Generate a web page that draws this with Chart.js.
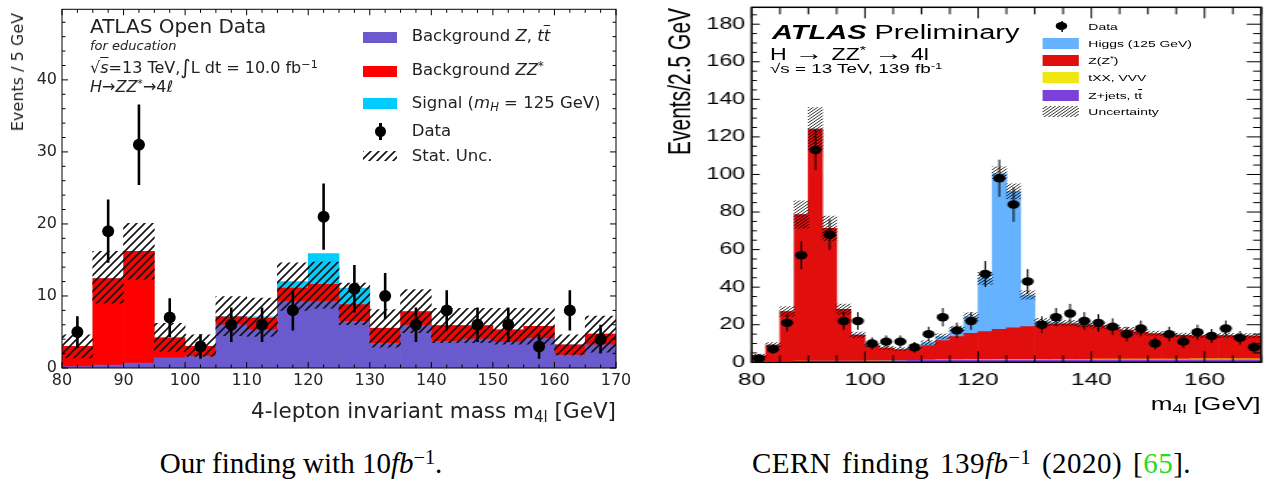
<!DOCTYPE html>
<html><head><meta charset="utf-8">
<script src="https://cdn.jsdelivr.net/npm/chart.js@4.4.1/dist/chart.umd.min.js"></script>
<style>
html,body{margin:0;padding:0;background:#fff;width:1273px;height:483px;overflow:hidden;}
.abs{position:absolute;white-space:nowrap;line-height:1;}
#left{position:absolute;left:0;top:0;width:640px;height:430px;font-family:'DejaVu Sans';color:#222;}
#right{position:absolute;left:660px;top:0;width:423px;height:430px;transform:scaleX(1.4492);transform-origin:0 0;font-family:'Liberation Sans';color:#000;}
.sup{position:relative;top:-0.45em;font-size:0.7em;line-height:0;}
.sub{position:relative;top:0.25em;font-size:0.7em;line-height:0;}
.cap{position:absolute;top:449px;font-family:'Liberation Serif';font-size:29px;line-height:28px;white-space:nowrap;color:#000;transform:translateX(-50%);}
.vert{writing-mode:vertical-rl;transform:rotate(180deg);}
.ov{text-decoration:overline;}
.arr{font-size:1.25em;line-height:0;position:relative;top:0.02em;}
</style></head><body>
<div id="left">
  <canvas id="c1" width="640" height="430" style="position:absolute;left:0;top:0;width:640px;height:430px"></canvas>
  <div class="abs vert" style="left:10px;top:13px;font-size:16px;">Events / 5 GeV</div>
  <div class="abs" style="left:90px;top:16.4px;font-size:20px;">ATLAS Open Data</div>
  <div class="abs" style="left:90px;top:39px;font-size:13px;font-style:italic;">for education</div>
  <div class="abs" style="left:90px;top:59.8px;font-size:16px;">√<span class="ov"><i>s</i></span>=13 TeV,<span style="font-size:1.25em;line-height:0;position:relative;top:0.05em;">∫</span>L dt = 10.0 fb<span class="sup">−1</span></div>
  <div class="abs" style="left:90px;top:79.2px;font-size:16px;"><i>H</i>→<i>ZZ</i><span class="sup">*</span>→4<i>ℓ</i></div>
  <div class="abs" style="left:363px;top:32px;width:34px;height:11px;background:#6a5acd;"></div>
  <div class="abs" style="left:363px;top:66.2px;width:34px;height:11px;background:#ff0000;"></div>
  <div class="abs" style="left:363px;top:98.4px;width:34px;height:11px;background:#00ccff;"></div>
  <div class="abs" style="left:379px;top:123px;width:2.5px;height:17px;background:#000;"></div>
  <div class="abs" style="left:374.5px;top:126.2px;width:11px;height:11px;border-radius:50%;background:#000;"></div>
  <canvas id="lgL" width="34" height="10" style="position:absolute;left:363px;top:151px;"></canvas>
  <div class="abs" style="left:411.7px;top:27.7px;font-size:16.5px;">Background <i>Z</i>, <i>t</i><i class="ov">t</i></div>
  <div class="abs" style="left:411.7px;top:61.7px;font-size:16.5px;">Background <i>ZZ</i><span class="sup">*</span></div>
  <div class="abs" style="left:411.7px;top:95.3px;font-size:16.5px;">Signal (<i>m<span class="sub">H</span></i> = 125 GeV)</div>
  <div class="abs" style="left:411.7px;top:123.3px;font-size:16.5px;">Data</div>
  <div class="abs" style="left:411.7px;top:147.5px;font-size:16.5px;">Stat. Unc.</div>
  <div class="abs" style="right:24px;top:400px;font-size:21.5px;">4-lepton invariant mass m<span class="sub">4l</span> [GeV]</div>
</div>
<div id="right">
  <canvas id="c2" width="423" height="430" style="position:absolute;left:0;top:0;width:423px;height:430px"></canvas>
  <div class="abs vert" style="left:3.3px;top:8px;font-size:21px;">Events/2.5 GeV</div>
  <div class="abs" style="left:77.3px;top:22.4px;font-size:20px;"><b><i>ATLAS</i></b> Preliminary</div>
  <div class="abs" style="left:75.9px;top:46.5px;font-size:16px;word-spacing:1px;">H <span class="arr">→</span> ZZ<span class="sup">*</span> <span class="arr">→</span> 4l</div>
  <div class="abs" style="left:75.9px;top:62px;font-size:13px;">√s = 13 TeV, 139 fb<span class="sup">-1</span></div>
  <div class="abs" style="left:276.5px;top:20.5px;width:1px;height:11px;background:#000;"></div>
  <div class="abs" style="left:272.8px;top:21.8px;width:8.4px;height:8.4px;border-radius:50%;background:#000;"></div>
  <div class="abs" style="left:264.3px;top:38px;width:24.9px;height:11px;background:#65b2ff;"></div>
  <div class="abs" style="left:264.3px;top:55px;width:24.9px;height:11px;background:#e10e0e;"></div>
  <div class="abs" style="left:264.3px;top:72px;width:24.9px;height:11px;background:#f0e612;"></div>
  <div class="abs" style="left:264.3px;top:89.5px;width:24.9px;height:11px;background:#7b40d8;"></div>
  <canvas id="lgR" width="25" height="11" style="position:absolute;left:264.3px;top:106px;"></canvas>
  <div class="abs" style="left:295.6px;top:21.8px;font-size:9.6px;">Data</div>
  <div class="abs" style="left:295.6px;top:39.3px;font-size:9.6px;">Higgs (125 GeV)</div>
  <div class="abs" style="left:295.6px;top:56.3px;font-size:9.6px;">Z(Z<span class="sup">*</span>)</div>
  <div class="abs" style="left:295.6px;top:73.3px;font-size:9.6px;">tXX, VVV</div>
  <div class="abs" style="left:295.6px;top:90.8px;font-size:9.6px;">Z+jets, t<span class="ov">t</span></div>
  <div class="abs" style="left:295.6px;top:107.3px;font-size:9.6px;">Uncertainty</div>
  <div class="abs" style="right:8.6px;top:394.8px;font-size:18px;">m<span class="sub">4l</span> [GeV]</div>
</div>
<div class="cap" style="left:301px;">Our finding with 10<i>fb</i><span class="sup">−1</span>.</div>
<div class="cap" style="left:971.5px;letter-spacing:0.5px;word-spacing:3px;">CERN finding 139<i>fb</i><span class="sup">−1</span> (2020) [<span style="color:#22dd22">65</span>].</div>
<script>
// ---------------- Left chart data (5 GeV bins) ----------------
const binsL = [82.5,87.5,92.5,97.5,102.5,107.5,112.5,117.5,122.5,127.5,132.5,137.5,142.5,147.5,152.5,157.5,162.5,167.5];
const bkgZttL = [0.2,0.4,0.7,1.4,1.6,6.0,5.3,9.25,9.25,6.46,3.4,5.9,3.7,4.0,3.6,4.1,1.8,3.2];
const bkgZZL  = [2.8,12.0,15.5,2.8,1.4,1.1,1.6,1.85,2.35,2.34,2.1,1.95,2.2,1.9,1.7,1.7,1.4,1.5];
const signalL = [0,0,0,0,0,0.05,0.2,0.9,4.3,2.3,0.05,0,0,0,0,0,0,0];
const uncLoL  = [1.4,9.0,12.3,2.3,1.6,4.5,4.4,8.0,8.3,6.0,2.9,4.9,3.5,3.5,3.3,3.3,1.8,2.2];
const uncHiL  = [4.6,16.2,20.1,6.2,4.6,9.9,9.7,14.6,14.7,11.8,8.1,10.9,8.3,8.3,8.3,8.3,4.6,7.2];
const dataL   = [5,19,31,7,3,6,6,8,21,11,10,6,8,6,6,3,8,4];
const dataErrL= [2.2,4.4,5.6,2.7,1.7,2.4,2.4,2.8,4.6,3.3,3.2,2.4,2.8,2.4,2.4,1.7,2.8,2.0];
const xTicksL = {min:80, max:170, step:10};
const yTicksL = {min:0, max:49.8, step:10};

// ---------------- Right chart data (2.5 GeV bins) ----------------
const binsR = [81.25,83.75,86.25,88.75,91.25,93.75,96.25,98.75,101.25,103.75,106.25,108.75,111.25,113.75,116.25,118.75,121.25,123.75,126.25,128.75,131.25,133.75,136.25,138.75,141.25,143.75,146.25,148.75,151.25,153.75,156.25,158.75,161.25,163.75,166.25,168.75];
const zjetsR = [0.3,0.3,0.4,0.5,0.6,0.6,0.6,0.6,0.7,0.8,0.9,1.0,1.0,1.1,1.1,1.2,1.2,1.2,1.2,1.2,1.3,1.3,1.3,1.3,1.3,1.3,1.3,1.3,1.3,1.3,1.3,1.3,1.3,1.3,1.3,1.3];
const txxR   = [0.1,0.1,0.1,0.1,0.1,0.1,0.1,0.1,0.1,0.1,0.1,0.1,0.2,0.2,0.2,0.2,0.2,0.3,0.3,0.3,0.3,0.3,0.3,0.3,0.4,0.4,0.4,0.4,0.4,0.4,0.4,0.5,0.5,0.5,0.5,0.5];
const zzR    = [3.1,8.8,26.5,78.1,123.4,70.6,27.5,13.8,8.1,6.5,5.6,6.0,7.7,10.2,12.4,14.0,14.9,16.0,16.8,17.5,18.2,18.7,18.8,18.4,17.6,16.6,15.3,14.3,13.5,13.1,12.6,12.2,12.2,12.4,12.2,12.2];
const higgsR = [0,0,0,0,0,0,0,0.1,0.3,0.4,0.5,0.6,1.6,2.2,4.0,8.9,28.4,83.0,72.7,16.8,2.0,0.8,0.5,0.4,0.3,0.3,0.3,0.2,0.2,0.2,0.2,0.2,0.2,0.2,0.2,0.2];
const uncR   = [0.9,1.3,2.6,7.3,11.5,6.5,2.8,1.5,1.0,0.9,0.8,0.9,1.1,1.4,1.6,2.0,3.2,3.6,4.0,2.2,1.6,1.5,1.5,1.5,1.4,1.4,1.3,1.2,1.2,1.1,1.1,1.1,1.1,1.1,1.1,1.1];
const dataR  = [2,7,21,57,113,68,22,22,10,11,11,8,15,24,17,22,47,98,84,43,20,24,26,22,21,19,15,18,10,15,11,16,14,18,13,8];
const dataErrR = [1.4,2.6,4.6,7.5,10.6,8.2,4.7,4.7,3.2,3.3,3.3,2.8,3.9,4.9,4.1,4.7,6.9,9.9,9.2,6.6,4.5,4.9,5.1,4.7,4.6,4.4,3.9,4.2,3.2,3.9,3.3,4.0,3.7,4.2,3.6,2.8];
const xTicksR = {min:80, max:170, step:20};
const yTicksR = {min:0, max:189, step:20};

// ---------------- helpers ----------------
function hatch(ctx, s, lw, color) {
  const t = document.createElement('canvas');
  t.width = s; t.height = s;
  const c = t.getContext('2d');
  c.strokeStyle = color; c.lineWidth = lw; c.lineCap = 'square';
  c.beginPath();
  c.moveTo(0, s); c.lineTo(s, 0);
  c.moveTo(-1, 1); c.lineTo(1, -1);
  c.moveTo(s - 1, s + 1); c.lineTo(s + 1, s - 1);
  c.stroke();
  return ctx.createPattern(t, 'repeat');
}
function makeFrame(o) {
  return { id: 'frame', afterDatasetsDraw(chart) {
    const {ctx, chartArea: a, scales: {x, y}} = chart;
    ctx.save();
    ctx.strokeStyle = '#000';
    ctx.lineWidth = o.tickWidth;
    const line = (x1, y1, x2, y2) => { ctx.beginPath(); ctx.moveTo(x1, y1); ctx.lineTo(x2, y2); ctx.stroke(); };
    const isMajor = (s, v) => s.ticks.some(t => Math.abs(t.value - v) < 1e-6);
    for (let v = x.min; v <= x.max + 1e-6; v += o.xMinor) {
      const p = x.getPixelForValue(v), m = isMajor(x, v);
      line(p, a.bottom, p, a.bottom - (m ? o.bMaj : o.bMin));
      line(p, a.top, p, a.top + (m ? o.tMaj : o.tMin));
    }
    for (let v = y.min; v <= y.max + 1e-6; v += o.yMinor) {
      const p = y.getPixelForValue(v), m = isMajor(y, v);
      line(a.left, p, a.left + (m ? o.lMaj : o.lMin), p);
      line(a.right, p, a.right - (m ? o.rMaj : o.rMin), p);
    }
    ctx.lineWidth = o.frameWidth;
    ctx.strokeRect(a.left, a.top, a.right - a.left, a.bottom - a.top);
    ctx.restore();
  }};
}
function makeErr(idx, errs, w) {
  return { id: 'errs', afterDatasetsDraw(chart) {
    const {ctx, chartArea: a, scales: {x, y}} = chart;
    const d = chart.data.datasets[idx].data;
    ctx.save();
    ctx.beginPath(); ctx.rect(a.left, a.top, a.right - a.left, a.bottom - a.top); ctx.clip();
    ctx.strokeStyle = '#000'; ctx.lineWidth = w;
    d.forEach((p, i) => {
      const px = x.getPixelForValue(p.x);
      ctx.beginPath();
      ctx.moveTo(px, y.getPixelForValue(p.y - errs[i]));
      ctx.lineTo(px, y.getPixelForValue(p.y + errs[i]));
      ctx.stroke();
    });
    ctx.restore();
  }};
}
const pts = (bins, vals) => bins.map((x, i) => ({x, y: vals[i]}));
const barBase = {type: 'bar', grouped: false, barPercentage: 1, categoryPercentage: 1, borderWidth: 0};

// ---------------- Left chart ----------------
const ctx1 = document.getElementById('c1').getContext('2d');
const hatchL = hatch(ctx1, 8, 1.6, '#111');
const lg1 = document.getElementById('lgL').getContext('2d');
lg1.fillStyle = hatch(lg1, 8, 1.6, '#111'); lg1.fillRect(0, 0, 34, 10);

new Chart(ctx1, {
  type: 'bar',
  data: { datasets: [
    {...barBase, label: 'Background Z, tt', data: pts(binsL, bkgZttL), backgroundColor: '#6a5acd', stack: 'mc', order: 3},
    {...barBase, label: 'Background ZZ*', data: pts(binsL, bkgZZL), backgroundColor: '#ff0000', stack: 'mc', order: 3},
    {...barBase, label: 'Signal', data: pts(binsL, signalL), backgroundColor: '#00ccff', stack: 'mc', order: 3},
    {...barBase, label: 'Stat. Unc.', data: binsL.map((x, i) => ({x, y: [uncLoL[i], uncHiL[i]]})), backgroundColor: hatchL, stack: 'unc', order: 2},
    {type: 'scatter', label: 'Data', data: pts(binsL, dataL), stack: 'data', order: 1, pointRadius: 6, pointBackgroundColor: '#000', pointBorderWidth: 0}
  ]},
  options: {
    responsive: false, animation: false, devicePixelRatio: 1,
    layout: {padding: {left: 0, top: 9.3, right: 24, bottom: 0}},
    plugins: {legend: {display: false}, tooltip: {enabled: false}},
    scales: {
      x: {type: 'linear', min: xTicksL.min, max: xTicksL.max, offset: false, stacked: true,
          grid: {display: false, drawTicks: false}, border: {display: false},
          ticks: {stepSize: xTicksL.step, includeBounds: false, maxRotation: 0, autoSkip: false, padding: 3, color: '#262626', font: {family: 'DejaVu Sans', size: 16}},
          afterFit(s) { s.height = 62; s.paddingLeft = 0; s.paddingRight = 0; }},
      y: {type: 'linear', min: yTicksL.min, max: yTicksL.max, stacked: true,
          grid: {display: false, drawTicks: false}, border: {display: false},
          ticks: {stepSize: yTicksL.step, includeBounds: false, padding: 5, color: '#262626', font: {family: 'DejaVu Sans', size: 16}},
          afterFit(s) { s.width = 62; s.paddingTop = 0; s.paddingBottom = 0; }}
    }
  },
  plugins: [makeFrame({frameWidth: 1, tickWidth: 1, xMinor: 2.5, yMinor: 2, bMaj: 6, bMin: 3.5, tMaj: 6, tMin: 3.5, lMaj: 6, lMin: 3.5, rMaj: 6, rMin: 3.5}), makeErr(4, dataErrL, 2.6)]
});

// ---------------- Right chart ----------------
const ctx2 = document.getElementById('c2').getContext('2d');
const hatchR = hatch(ctx2, 3, 0.8, '#000');
const lg2 = document.getElementById('lgR').getContext('2d');
lg2.fillStyle = hatch(lg2, 3, 0.8, '#000'); lg2.fillRect(0, 0, 25, 11);
const totalR = binsR.map((_, i) => zjetsR[i] + txxR[i] + zzR[i] + higgsR[i]);

new Chart(ctx2, {
  type: 'bar',
  data: { datasets: [
    {...barBase, label: 'Z+jets, tt', data: pts(binsR, zjetsR), backgroundColor: '#7b40d8', stack: 'mc', order: 3},
    {...barBase, label: 'tXX, VVV', data: pts(binsR, txxR), backgroundColor: '#f0e612', stack: 'mc', order: 3},
    {...barBase, label: 'Z(Z*)', data: pts(binsR, zzR), backgroundColor: '#e10e0e', stack: 'mc', order: 3},
    {...barBase, label: 'Higgs (125 GeV)', data: pts(binsR, higgsR), backgroundColor: '#65b2ff', stack: 'mc', order: 3},
    {...barBase, label: 'Uncertainty', data: binsR.map((x, i) => ({x, y: [totalR[i] - uncR[i], totalR[i] + uncR[i]]})), backgroundColor: hatchR, stack: 'unc', order: 2},
    {type: 'scatter', label: 'Data', data: pts(binsR, dataR), stack: 'data', order: 1, pointRadius: 4.2, pointBackgroundColor: '#000', pointBorderWidth: 0}
  ]},
  options: {
    responsive: false, animation: false, devicePixelRatio: 1,
    layout: {padding: {left: 0, top: 7.3, right: 8.2, bottom: 0}},
    plugins: {legend: {display: false}, tooltip: {enabled: false}},
    scales: {
      x: {type: 'linear', min: xTicksR.min, max: xTicksR.max, offset: false, stacked: true,
          grid: {display: false, drawTicks: false}, border: {display: false},
          ticks: {stepSize: xTicksR.step, includeBounds: false, maxRotation: 0, autoSkip: false, padding: 8, color: '#000', font: {family: 'Liberation Sans', size: 17}},
          afterFit(s) { s.height = 67.7; s.paddingLeft = 0; s.paddingRight = 0; }},
      y: {type: 'linear', min: yTicksR.min, max: yTicksR.max, stacked: true,
          grid: {display: false, drawTicks: false}, border: {display: false},
          ticks: {stepSize: yTicksR.step, includeBounds: false, padding: 4.6, color: '#000', font: {family: 'Liberation Sans', size: 16}},
          afterFit(s) { s.width = 63.3; s.paddingTop = 0; s.paddingBottom = 0; }}
    }
  },
  plugins: [makeFrame({frameWidth: 1.5, tickWidth: 1, xMinor: 5, yMinor: 5, bMaj: 11, bMin: 7, tMaj: 11, tMin: 7, lMaj: 5.5, lMin: 3.5, rMaj: 10, rMin: 5.5}), makeErr(5, dataErrR, 1)]
});
</script>
</body></html>
